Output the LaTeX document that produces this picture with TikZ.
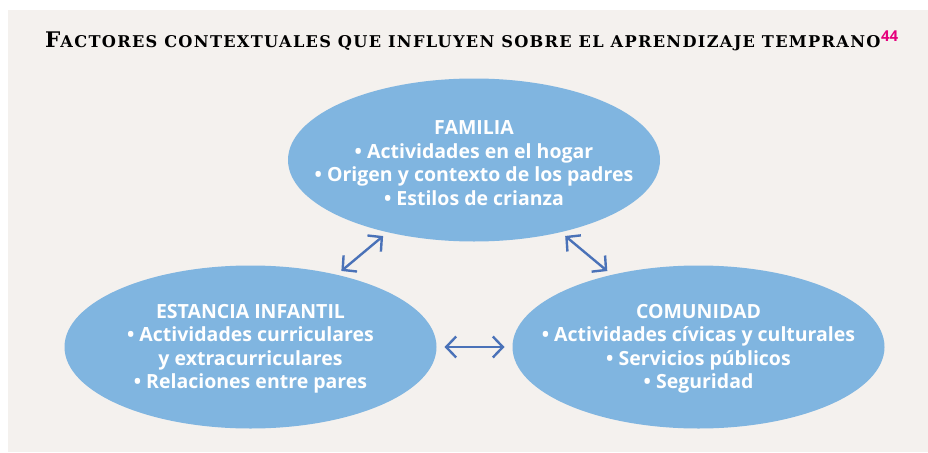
\documentclass[tikz,border=0pt]{standalone}
\usepackage{fontspec}
\usetikzlibrary{shapes.geometric,arrows.meta}
\newfontfamily\boxfont{Open Sans}
\newfontfamily\titlefont[LetterSpace=8]{DejaVu Serif}
\newcommand{\capsbig}[1]{{\fontsize{21.5}{21.5}\selectfont #1}}
\newcommand{\capssmall}[1]{{\fontsize{16.2}{16.2}\selectfont #1}}

\begin{document}
\begin{tikzpicture}[x=1pt,y=-1pt,
	bubble/.style={ellipse,fill=bubbleblue,minimum width=372pt,minimum height=163pt,inner sep=0pt,outer sep=0pt},
	bubbletext/.style={text=white,font=\boxfont\bfseries\fontsize{19.5}{23.5}\selectfont,align=center,inner sep=0pt},
	link/.style={{Straight Barb[length=10pt,width=21pt]}-{Straight Barb[length=10pt,width=21pt]},line width=2.4pt,draw=arrowblue}]
					\definecolor{panelbg}{HTML}{F4F1EE}
					\definecolor{bubbleblue}{HTML}{80B5E0}
					\definecolor{arrowblue}{HTML}{4A72B8}
					\definecolor{titlepink}{HTML}{E5007D}
					
					\useasboundingbox (0,0) rectangle (928,452);
					\fill[panelbg] (8,10) rectangle (928,452);
					
					% title
					\node[anchor=base west,inner sep=0pt] (title) at (45,48) {\titlefont\bfseries\capsbig{F}\capssmall{ACTORES CONTEXTUALES QUE INFLUYEN SOBRE EL APRENDIZAJE TEMPRANO}\hspace{0.5pt}\raisebox{6pt}{\boxfont\bfseries\fontsize{15}{15}\selectfont\color{titlepink}44}};
					
					% bubbles
					\node[bubble] (familia) at (474,160) {};
					\node[bubble] (estancia) at (250.5,347) {};
					\node[bubble] (comunidad) at (698.5,347) {};
					
					% labels
					\node[bubbletext] (familia-txt) at (474,163) {FAMILIA\\• Actividades en el hogar\\• Origen y contexto de los padres\\• Estilos de crianza};
					\node[bubbletext] (estancia-txt) at (250.5,349) {ESTANCIA INFANTIL\\• Actividades curriculares\\y extracurriculares\\• Relaciones entre pares};
					\node[bubbletext] (comunidad-txt) at (698.5,349) {COMUNIDAD\\• Actividades cívicas y culturales\\• Servicios públicos\\• Seguridad};
					
					% arrows
					\draw[link,shorten <=6pt,shorten >=6pt] (familia) -- (estancia);
					\draw[link,shorten <=6pt,shorten >=6pt] (familia) -- (comunidad);
					\draw[link,shorten <=8pt,shorten >=8pt] (estancia) -- (comunidad);
				\end{tikzpicture}
\end{document}
